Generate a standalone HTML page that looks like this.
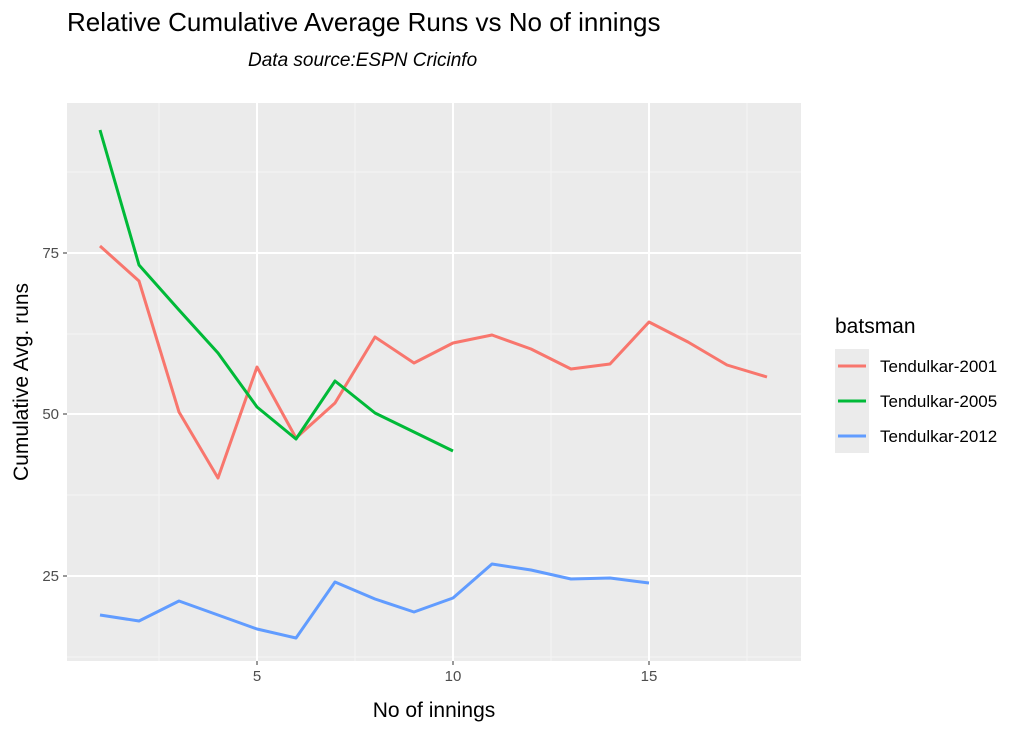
<!DOCTYPE html>
<html><head><meta charset="utf-8"><style>body{margin:0;background:#fff}svg{display:block}text{font-family:"Liberation Sans",Arial,sans-serif}</style></head><body>
<svg width="1024" height="731" xmlns="http://www.w3.org/2000/svg">
<rect width="1024" height="731" fill="#fff"/>
<text x="67" y="31" font-size="26" fill="#000">Relative Cumulative Average Runs vs No of innings</text>
<text x="248" y="66" font-size="19" font-style="italic" fill="#000">Data source:ESPN Cricinfo</text>
<rect x="67" y="103" width="734" height="558" fill="#ebebeb"/>
<g stroke="#f5f5f5" stroke-width="1">
<line x1="67" x2="801" y1="172" y2="172"/><line x1="67" x2="801" y1="334" y2="334"/><line x1="67" x2="801" y1="495" y2="495"/><line x1="67" x2="801" y1="657" y2="657"/>
<line x1="159" x2="159" y1="103" y2="661"/><line x1="355" x2="355" y1="103" y2="661"/><line x1="551" x2="551" y1="103" y2="661"/><line x1="747" x2="747" y1="103" y2="661"/>
</g>
<g stroke="#fff" stroke-width="2">
<line x1="67" x2="801" y1="253" y2="253"/><line x1="67" x2="801" y1="414" y2="414"/><line x1="67" x2="801" y1="576" y2="576"/>
<line x1="257" x2="257" y1="103" y2="661"/><line x1="453" x2="453" y1="103" y2="661"/><line x1="649" x2="649" y1="103" y2="661"/>
</g>
<g fill="none" stroke-width="3" stroke-linejoin="round">
<polyline stroke="#f8766d" points="100,246 139,281 179,412 218,478 257,367 296,438 335,403 375,337 414,363 453,343 492,335 531,349 571,369 610,364 649,322 688,342 727,365 767,377"/>
<polyline stroke="#00ba38" points="100,130 139,265 179,310 218,353 257,407 296,439 335,381 375,413 414,432 453,451"/>
<polyline stroke="#619cff" points="100,615 139,621 179,601 218,615 257,629 296,638 335,582 375,599 414,612 453,598 492,564 531,570 571,579 610,578 649,583"/>
</g>
<g stroke="#333" stroke-width="1">
<line x1="63" x2="67" y1="253" y2="253"/><line x1="63" x2="67" y1="414" y2="414"/><line x1="63" x2="67" y1="576" y2="576"/>
<line x1="257" x2="257" y1="661" y2="665"/><line x1="453" x2="453" y1="661" y2="665"/><line x1="649" x2="649" y1="661" y2="665"/>
</g>
<g font-size="15" fill="#4d4d4d">
<text x="59" y="258" text-anchor="end">75</text><text x="59" y="419" text-anchor="end">50</text><text x="59" y="581" text-anchor="end">25</text>
<text x="257" y="681" text-anchor="middle">5</text><text x="453" y="681" text-anchor="middle">10</text><text x="649" y="681" text-anchor="middle">15</text>
</g>
<text x="434" y="717" font-size="21" text-anchor="middle">No of innings</text>
<text transform="translate(28,382) rotate(-90)" font-size="21" text-anchor="middle">Cumulative Avg. runs</text>
<text x="835" y="333" font-size="21">batsman</text>
<rect x="835" y="349" width="34" height="104" fill="#ebebeb"/>
<line x1="838" x2="866" y1="366" y2="366" stroke="#f8766d" stroke-width="3"/>
<line x1="838" x2="866" y1="401" y2="401" stroke="#00ba38" stroke-width="3"/>
<line x1="838" x2="866" y1="436" y2="436" stroke="#619cff" stroke-width="3"/>
<g font-size="17" fill="#000">
<text x="880" y="372">Tendulkar-2001</text><text x="880" y="407">Tendulkar-2005</text><text x="880" y="442">Tendulkar-2012</text>
</g>
</svg>
</body></html>
